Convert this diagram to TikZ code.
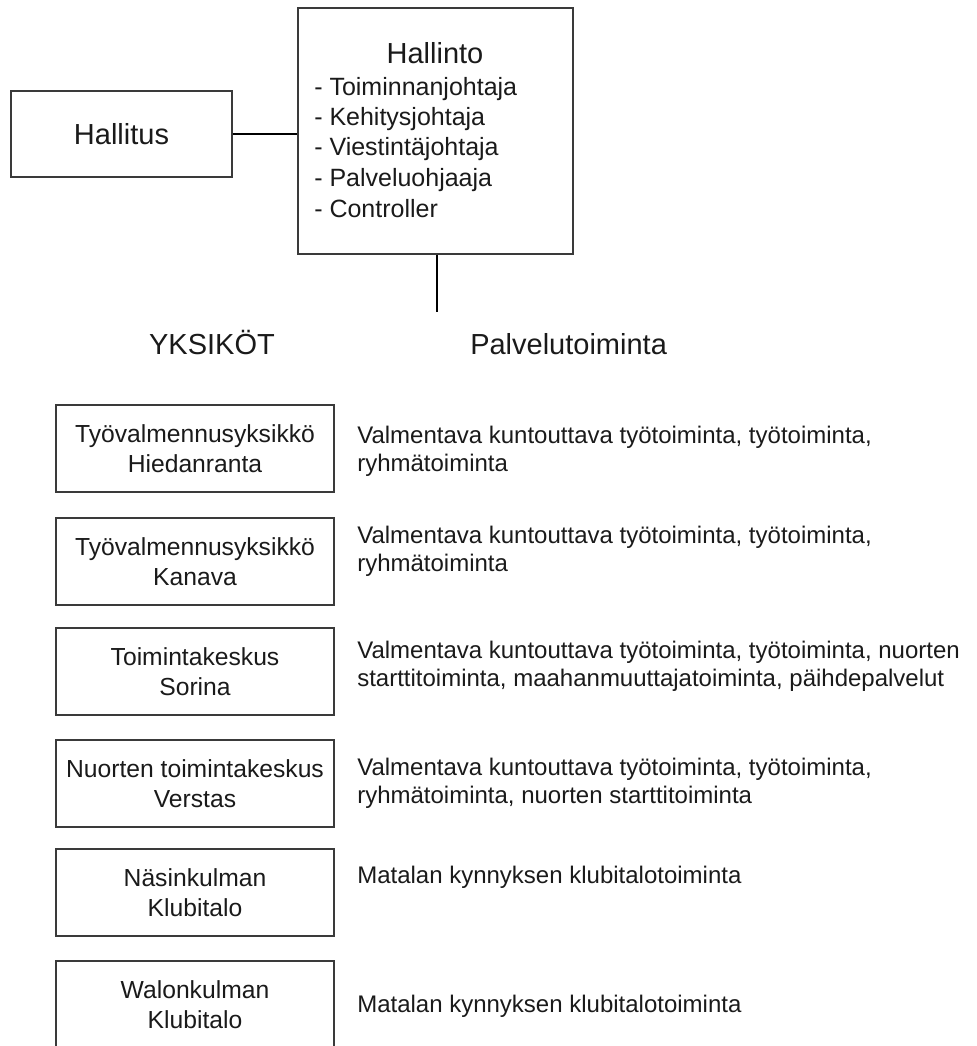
\documentclass[tikz,border=0pt]{standalone}
\usepackage{fontspec}
\setmainfont{Liberation Sans}
\definecolor{boxgray}{HTML}{3A3A3A}
\definecolor{txt}{HTML}{1A1A1A}
\begin{document}
\begin{tikzpicture}[x=0.75pt,y=-0.75pt,
  box/.style={draw=boxgray, line width=1.1pt, rectangle, inner sep=0pt, text=txt},
  unitbox/.style={box, minimum width=208.5pt, minimum height=65.25pt, align=center,
    font=\fontsize{18.5}{22.5}\selectfont},
  title/.style={font=\fontsize{21.75}{26}\selectfont, text=txt, inner sep=0pt},
  listitem/.style={font=\fontsize{18.75}{22.5}\selectfont, text=txt, inner sep=0pt, anchor=base west},
  desc/.style={font=\fontsize{18}{21}\selectfont, text=txt, inner sep=0pt, anchor=base west},
  conn/.style={draw=black, line width=2.2pt}]
\useasboundingbox (0,0) rectangle (977,1046);

% top structure
\node[box, minimum width=165.75pt, minimum height=64.5pt, font=\fontsize{21.75}{26}\selectfont] (hallitus) at (121.5,134) {Hallitus};
\node[box, minimum width=206.25pt, minimum height=184.5pt] (hallinto) at (435.5,131) {};
\node[title, anchor=base] (hallintot) at (435,63) {Hallinto};
\node[listitem] (l1) at (314,95) {- Toiminnanjohtaja};
\node[listitem] (l2) at (314,125) {- Kehitysjohtaja};
\node[listitem] (l3) at (314,155) {- Viestintäjohtaja};
\node[listitem] (l4) at (314,186) {- Palveluohjaaja};
\node[listitem] (l5) at (314,217) {- Controller};

\coordinate (vend) at (437,312);
\draw[conn] (hallitus.east) -- (hallitus.east -| hallinto.west);
\draw[conn] (vend |- hallinto.south) -- (vend);

% headers
\node[title, anchor=base] (yks) at (212,354) {YKSIKÖT};
\node[title, anchor=base west] (palv) at (470,354) {Palvelutoiminta};

% unit boxes
\node[unitbox] (u1) at (195,448.5) {Työvalmennusyksikkö\\Hiedanranta};
\node[unitbox] (u2) at (195,561.5) {Työvalmennusyksikkö\\Kanava};
\node[unitbox] (u3) at (195,671.5) {Toimintakeskus\\Sorina};
\node[unitbox] (u4) at (195,783.5) {Nuorten toimintakeskus\\Verstas};
\node[unitbox] (u5) at (195,892.5) {Näsinkulman\\Klubitalo};
\node[unitbox] (u6) at (195,1004.5) {Walonkulman\\Klubitalo};

% descriptions
\node[desc] (d1a) at (357,443) {Valmentava kuntouttava työtoiminta, työtoiminta,};
\node[desc] (d1b) at (357,471) {ryhmätoiminta};
\node[desc] (d2a) at (357,543) {Valmentava kuntouttava työtoiminta, työtoiminta,};
\node[desc] (d2b) at (357,571) {ryhmätoiminta};
\node[desc] (d3a) at (357,658) {Valmentava kuntouttava työtoiminta, työtoiminta, nuorten};
\node[desc] (d3b) at (357,686) {starttitoiminta, maahanmuuttajatoiminta, päihdepalvelut};
\node[desc] (d4a) at (357,775) {Valmentava kuntouttava työtoiminta, työtoiminta,};
\node[desc] (d4b) at (357,803) {ryhmätoiminta, nuorten starttitoiminta};
\node[desc] (d5) at (357,883) {Matalan kynnyksen klubitalotoiminta};
\node[desc] (d6) at (357,1012) {Matalan kynnyksen klubitalotoiminta};
\end{tikzpicture}
\end{document}
